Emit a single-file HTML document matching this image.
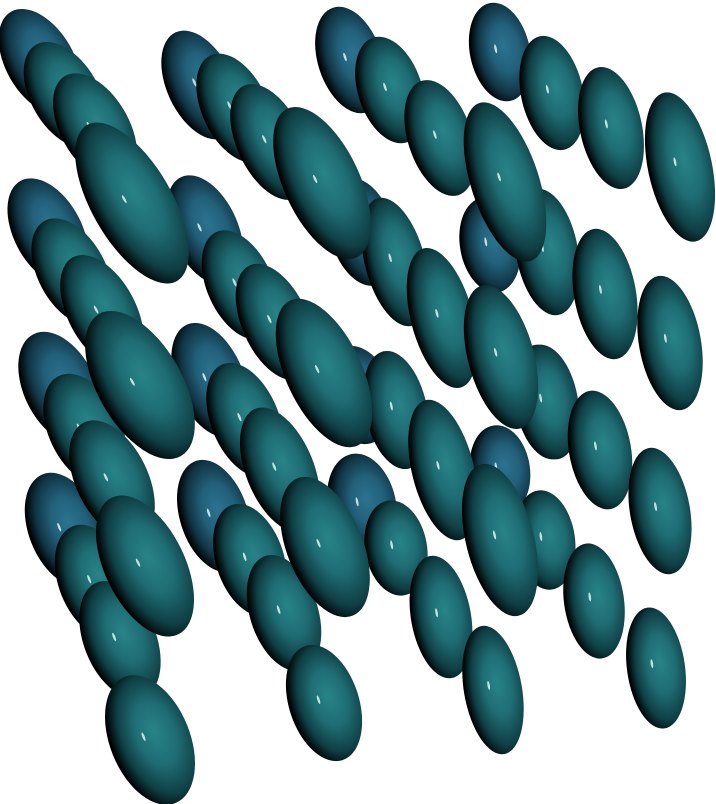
<!DOCTYPE html>
<html><head><meta charset="utf-8"><style>
html,body{margin:0;padding:0;background:#fff;width:716px;height:804px;overflow:hidden}
svg{display:block}
</style></head><body>
<svg id="chart" width="716" height="804" viewBox="0 0 716 804">
<defs>
<radialGradient id="gTeal" cx="0.62" cy="0.5" r="0.6" fx="0.58" fy="0.45">
<stop offset="0" stop-color="#288487"/><stop offset="0.4" stop-color="#1f6d74"/><stop offset="0.75" stop-color="#0f3f45"/><stop offset="1" stop-color="#000"/>
</radialGradient>
<radialGradient id="gBlue" cx="0.62" cy="0.5" r="0.6" fx="0.58" fy="0.45">
<stop offset="0" stop-color="#2c7390"/><stop offset="0.4" stop-color="#22607a"/><stop offset="0.75" stop-color="#113545"/><stop offset="1" stop-color="#000"/>
</radialGradient>
</defs>
<g id="glyphs"></g>
</svg>
<script>
// glyph data: center, semi-axes, tilt (deg), depth layer (1 = back)
const glyphX = [40,65,95,132, 200,235,270,322, 350,390,440,505, 500,552,611,680,
  48,72,102,140, 205,240,275,324, 362,395,442,501, 490,547,605,670,
  60,85,112,145, 210,245,280,325, 358,396,443,500, 545,600,660,
  65,95,120,150, 214,250,284,324, 362,396,441,493, 500,545,594,656, 548];
const glyphY = [62,95,128,203, 85,108,142,183, 60,90,138,182, 52,93,128,167,
  232,272,312,385, 230,285,322,373, 232,262,318,357, 245,252,294,343,
  388,430,480,566, 380,420,470,547, 395,410,470,540, 402,450,511,
  530,582,640,740, 516,560,613,703, 505,548,617,690, 470,540,601,668, 402];
const majorAxis = [58,58,60,90, 58,58,62,82, 55,55,60,83, 50,58,62,76,
  58,58,62,82, 58,58,62,80, 55,66,72,74, 48,64,66,68,
  60,60,64,76, 60,60,66,74, 50,60,72,78, 58,60,64,
  60,60,62,68, 58,58,60,60, 52,48,62,65, 45,50,58,61, 58];
const minorAxis = [34,34,34,40, 33,33,33,38, 32,32,32,34, 30,31,31,32,
  34,34,34,42, 33,33,33,38, 32,30,31,33, 30,31,31,31,
  36,36,36,40, 34,34,34,38, 34,31,31,34, 30,31,30,
  36,36,36,40, 34,34,34,35, 34,31,30,29, 30,30,30,29, 30];
const tiltDeg = [-30,-30,-30,-30, -25,-25,-25,-25, -18,-18,-18,-18, -12,-12,-12,-12,
  -28,-28,-28,-30, -24,-24,-24,-25, -15,-15,-15,-15, -10,-10,-10,-10,
  -26,-26,-26,-26, -22,-22,-22,-22, -15,-12,-14,-14, -10,-10,-10,
  -22,-22,-22,-22, -18,-18,-18,-18, -12,-10,-10,-10, -8,-8,-8,-8, -10];
const layer = [1,2,3,4, 1,2,3,4, 1,2,3,4, 1,2,3,4,
  1,2,3,4, 1,2,3,4, 1,2,3,4, 1,2,3,4,
  1,2,3,4, 1,2,3,4, 1,2,3,4, 2,3,4,
  1,2,3,4, 1,2,3,4, 1,2,3,4, 1,2,3,4, 1];

const NS = 'http://www.w3.org/2000/svg';
const g = document.getElementById('glyphs');
const order = glyphX.map((_, i) => i).sort((a, b) => layer[a] - layer[b] || a - b);
order.forEach(i => {
  const grp = document.createElementNS(NS, 'g');
  grp.setAttribute('transform', `translate(${glyphX[i]},${glyphY[i]}) rotate(${tiltDeg[i]})`);
  
  
  const e = document.createElementNS(NS, 'ellipse');
  e.setAttribute('rx', minorAxis[i]);
  e.setAttribute('ry', majorAxis[i]);
  e.setAttribute('fill', layer[i] === 1 ? 'url(#gBlue)' : 'url(#gTeal)');
  
  
  grp.appendChild(e);
  const h = document.createElementNS(NS, 'ellipse');
  h.setAttribute('cx', -minorAxis[i] * 0.12);
  h.setAttribute('cy', -majorAxis[i] * 0.08);
  h.setAttribute('rx', 1.2);
  h.setAttribute('ry', 4.5);
  h.setAttribute('fill', '#e8ffff');
  h.setAttribute('opacity', '0.8');
  
  
  grp.appendChild(h);
  g.appendChild(grp);
});
</script>
</body></html>
